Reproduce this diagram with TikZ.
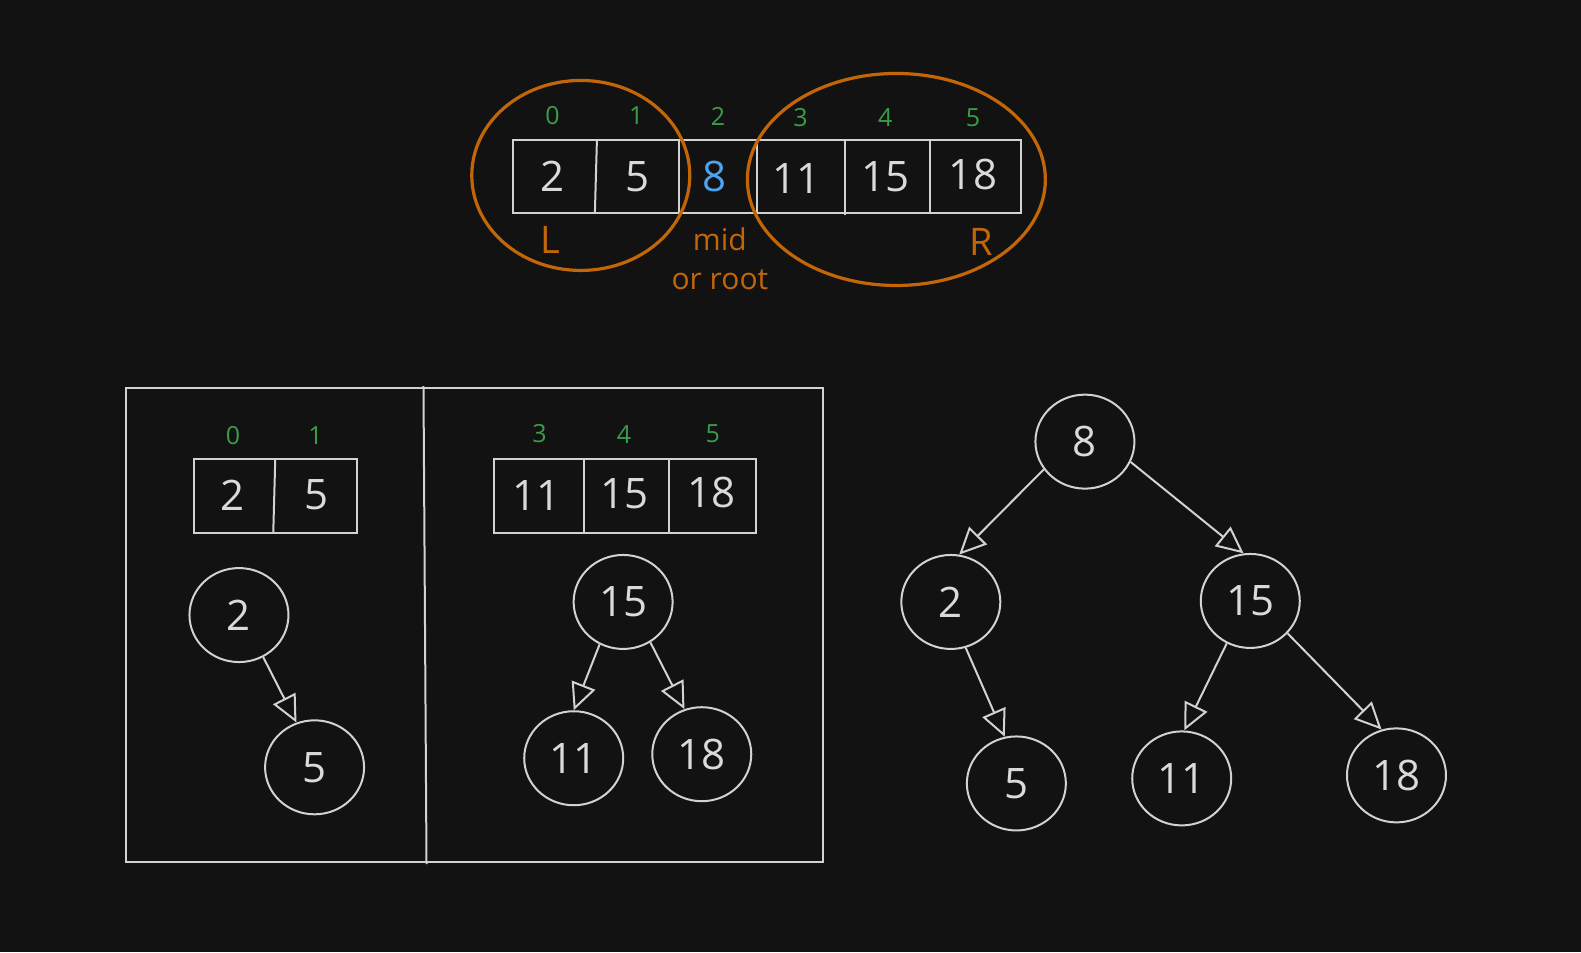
\documentclass[tikz,border=0pt]{standalone}
\usepackage{fontspec}
\setmainfont{Open Sans}
\usetikzlibrary{arrows.meta}
\usetikzlibrary{shapes.geometric}
\definecolor{bgc}{RGB}{18,18,18}
\definecolor{linec}{RGB}{210,210,210}
\definecolor{fgc}{RGB}{218,218,218}
\definecolor{idxc}{RGB}{58,158,72}
\definecolor{midc}{RGB}{77,163,240}
\definecolor{partc}{RGB}{194,102,8}
\tikzset{
  val/.style={text=fgc, inner sep=0pt, font=\fontsize{42}{50}\selectfont},
  idx/.style={text=idxc, inner sep=0pt, font=\fontsize{25}{30}\selectfont},
  lbl/.style={text=partc, inner sep=0pt, font=\fontsize{30}{36}\selectfont},
  side/.style={text=partc, inner sep=0pt, font=\fontsize{38}{44}\selectfont},
  cellline/.style={draw=linec, line width=2pt},
  part/.style={draw=partc, line width=3.2pt},
  tnode/.style={draw=linec, line width=2pt, ellipse, minimum width=99pt,
    minimum height=94pt, inner sep=0pt, text=fgc, font=\fontsize{42}{50}\selectfont},
  tarrow/.style={-{Triangle[open,length=27pt,width=25pt]}, color=linec, line width=2pt},
}
\begin{document}
\begin{tikzpicture}[x=1.0083pt,y=-1.0083pt]
  \fill[bgc] (0,0) rectangle (1568,944.2);
  \useasboundingbox (0,0) rectangle (1568,944.2);

  % whole array
  \draw[cellline] (509,139) rectangle (1013,211);
  \draw[cellline] (592,139) -- (590,211);
  \draw[cellline] (673,139) -- (673,211);
  \draw[cellline] (751,139) -- (751,211);
  \draw[cellline] (838,139) -- (838,213);
  \draw[cellline] (922,139) -- (922,211);
  \node[val] (a0) at (548,175) {2};
  \node[val] (a1) at (632,175) {5};
  \node[val, text=midc] (a2) at (709,175) {8};
  \node[val] (a3) at (790,177) {11};
  \node[val] (a4) at (878,175) {15};
  \node[val] (a5) at (965,173) {18};
  \node[idx] (i0) at (548,115) {0};
  \node[idx] (i1) at (631,115) {1};
  \node[idx] (i2) at (712,115) {2};
  \node[idx] (i3) at (794,117) {3};
  \node[idx] (i4) at (878,117) {4};
  \node[idx] (i5) at (965,117) {5};
  \draw[part] (576,174) ellipse [x radius=109pt, y radius=95pt];
  \draw[part] (889,178) ellipse [x radius=149pt, y radius=106pt];
  \node[side] (lL) at (546,238) {L};
  \node[side] (lR) at (973,240) {R};
  \node[lbl] (lmid) at (714,237) {mid};
  \node[lbl] (lroot) at (714,277) {or root};

  % split halves
  \draw[cellline] (125,385) rectangle (816,855);
  \draw[cellline] (420,383) -- (423,857);

  \draw[cellline] (192,455) rectangle (354,529);
  \draw[cellline] (273,455) -- (271,529);
  \node[val] (b0) at (231,491) {2};
  \node[val] (b1) at (314,491) {5};
  \node[idx] (j0) at (231,432) {0};
  \node[idx] (j1) at (313,432) {1};

  \draw[cellline] (490,455) rectangle (750,529);
  \draw[cellline] (579,455) -- (579,529);
  \draw[cellline] (663,455) -- (663,529);
  \node[val] (c3) at (532,491) {11};
  \node[val] (c4) at (619,490) {15};
  \node[val] (c5) at (706,488) {18};
  \node[idx] (k3) at (535,430) {3};
  \node[idx] (k4) at (619,431) {4};
  \node[idx] (k5) at (707,430) {5};

  \node[tnode] (l2) at (237,610) {2};
  \node[tnode] (l5) at (312,761) {5};
  \node[tnode] (r15) at (618,597) {15};
  \node[tnode] (r11) at (569,752) {11};
  \node[tnode] (r18) at (696,748) {18};
  \path[tarrow]
    (l2.300) edge (l5.112)
    (r15.241) edge (r11.90)
    (r15.304) edge (r18.111);

  % built tree
  \node[tnode] (t8) at (1076,438) {8};
  \node[tnode] (t2) at (943,597) {2};
  \node[tnode] (t15) at (1240,596) {15};
  \node[tnode] (t5) at (1008,777) {5};
  \node[tnode] (t11) at (1172,772) {11};
  \node[tnode] (t18) at (1385,769) {18};
  \path[tarrow]
    (t8.214) edge (t2.80)
    (t8.336) edge (t15.98)
    (t2.288) edge (t5.104)
    (t15.241) edge (t11.87)
    (t15.319) edge (t18.108);
\end{tikzpicture}
\end{document}
